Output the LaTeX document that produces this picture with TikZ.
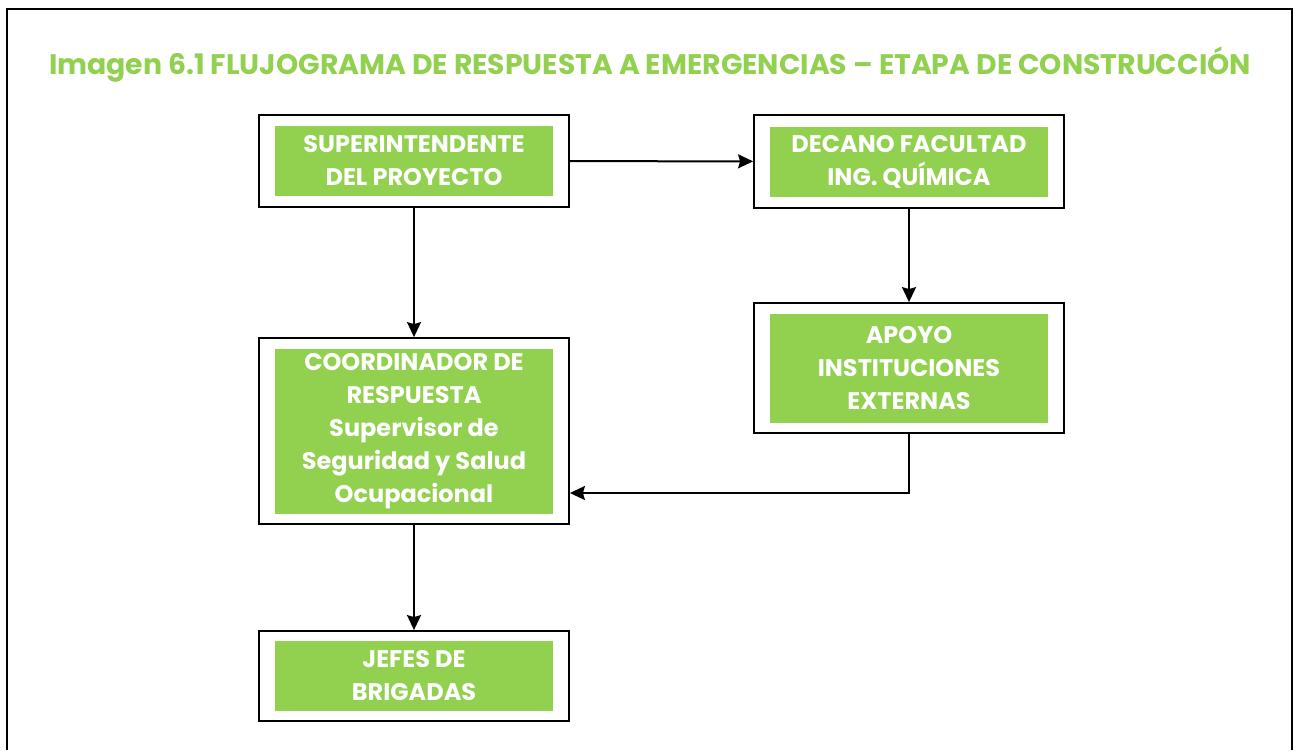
\documentclass[tikz,border=0pt]{standalone}
\usepackage{fontspec}
\setmainfont{Poppins}
\usepackage{xcolor}
\usepackage{tikz}
\usetikzlibrary{positioning, arrows.meta}
\definecolor{verde}{HTML}{92D050}
\tikzstyle{marco} = [rectangle, draw=black, line width=1.8pt, fill=white, minimum width=310pt]
\tikzstyle{cuadro} = [rectangle, fill=verde, text=white, align=center, minimum width=278pt, inner sep=0pt, font=\fontsize{24}{33}\selectfont\bfseries]
\tikzstyle{arrow} = [line width=2pt,-{Stealth[length=15pt,width=14pt,inset=2pt]}]

\begin{document}
\begin{tikzpicture}[x=1pt,y=-1pt]
		\useasboundingbox (0,0) rectangle (1293,750);
		%marco exterior
		\draw [line width=2.6pt] (7,750) -- (7,9) -- (1292,9) -- (1292,750);
		\node (titulo) at (650,65) [text=verde, font=\fontsize{28.3}{34}\selectfont\bfseries] {Imagen 6.1 FLUJOGRAMA DE RESPUESTA A EMERGENCIAS – ETAPA DE CONSTRUCCIÓN};
		
		%cajas
		\node (sup) [marco, minimum height=92pt] at (414,161) {};
		\node (supt) [cuadro, minimum height=70pt] at (sup) {SUPERINTENDENTE\\DEL PROYECTO};
		\node (dec) [marco, minimum height=93pt] at (909,161.5) {};
		\node (dect) [cuadro, minimum height=70pt] at (dec) {DECANO FACULTAD\\ING. QUÍMICA};
		\node (apo) [marco, minimum height=130pt] at (909,368) {};
		\node (apot) [cuadro, minimum height=109pt] at (apo) {APOYO\\INSTITUCIONES\\EXTERNAS};
		\node (coo) [marco, minimum height=186pt] at (414,431) {};
		\node (coot) [cuadro, minimum height=165pt] at (coo) {COORDINADOR DE\\RESPUESTA\\Supervisor de\\Seguridad y Salud\\Ocupacional};
		\node (jef) [marco, minimum height=90pt] at (414,676) {};
		\node (jeft) [cuadro, minimum height=70pt] at (jef) {JEFES DE\\BRIGADAS};
		\coordinate (giro) at (909,493);
		
		%conexiones
		\draw [arrow] (sup) -- (dec);
		\draw [arrow] (sup) -- (coo);
		\draw [arrow] (dec) -- (apo);
		\draw [arrow] (apo) -- (giro) -- (coo.east |- giro);
		\draw [arrow] (coo) -- (jef);
		
\end{tikzpicture}
\end{document}
